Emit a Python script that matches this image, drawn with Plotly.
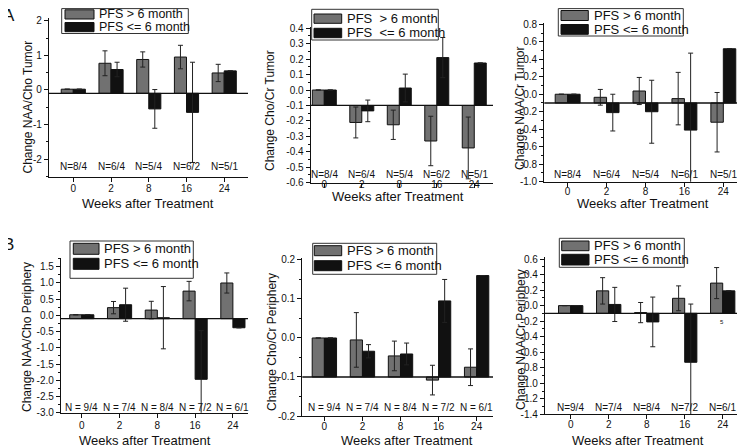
import plotly.graph_objects as go

# ---------------- data ----------------
WEEKS = ["0", "2", "8", "16", "24"]
SERIES = ["PFS > 6 month", "PFS <= 6 month"]
BASE = -0.1  # bars start at this baseline

# A: tumor
naa_cho_tumor_gt = [0.02, 0.77, 0.88, 0.95, 0.49]
naa_cho_tumor_gt_err = [None, 0.36, 0.22, 0.34, 0.25]
naa_cho_tumor_le = [0.02, 0.59, -0.55, -0.65, 0.55]
naa_cho_tumor_le_err = [None, 0.21, 0.56, 1.45, None]

cho_cr_tumor_gt = [0.0, -0.21, -0.225, -0.33, -0.375]
cho_cr_tumor_gt_err = [None, 0.10, 0.095, 0.16, 0.20]
cho_cr_tumor_le = [0.0, -0.135, 0.013, 0.21, 0.175]
cho_cr_tumor_le_err = [None, 0.07, 0.09, 0.13, None]

naa_cr_tumor_gt = [0.0, -0.035, 0.037, -0.05, -0.32]
naa_cr_tumor_gt_err = [None, 0.09, 0.155, 0.30, 0.34]
naa_cr_tumor_le = [0.0, -0.21, -0.20, -0.41, 0.52]
naa_cr_tumor_le_err = [None, 0.21, 0.36, 0.88, None]

# B: periphery
naa_cho_peri_gt = [0.02, 0.24, 0.165, 0.75, 1.0]
naa_cho_peri_gt_err = [None, 0.19, 0.27, 0.30, 0.31]
naa_cho_peri_le = [0.02, 0.33, -0.07, -1.97, -0.38]
naa_cho_peri_le_err = [None, 0.51, 0.96, 1.5, None]

cho_cr_peri_gt = [0.0, -0.005, -0.046, -0.108, -0.075]
cho_cr_peri_gt_err = [None, 0.07, 0.038, 0.038, 0.047]
cho_cr_peri_le = [0.0, -0.034, -0.041, 0.095, 0.16]
cho_cr_peri_le_err = [None, 0.017, 0.028, 0.055, None]

naa_cr_peri_gt = [0.0, 0.19, -0.09, 0.094, 0.29]
naa_cr_peri_gt_err = [None, 0.17, 0.13, 0.16, 0.20]
naa_cr_peri_le = [0.0, 0.015, -0.21, -0.73, 0.19]
naa_cr_peri_le_err = [None, 0.22, 0.32, 0.75, None]

N_A12 = ["N=8/4", "N=6/4", "N=5/4", "N=6/2", "N=5/1"]
N_A3 = ["N=8/4", "N=6/4", "N=5/4", "N=6/1", "N=5/1"]
N_B12 = ["N = 9/4", "N = 7/4", "N = 8/4", "N = 7/2", "N = 6/1"]
N_B3 = ["N=9/4", "N=7/4", "N=8/4", "N=7/2", "N=6/1"]

YTITLES = ["Change NAA/Cho Tumor", "Change Cho/Cr Tumor", "Change NAA/Cr Tumor",
           "Change NAA/Cho Periphery", "Change Cho/Cr Periphery", "Change NAA/Cr Periphery"]
XTITLE = "Weeks after Treatment"

YTICKS_1 = [-2, -1, 0, 1, 2]
YTICKS_2 = [-0.6, -0.5, -0.4, -0.3, -0.2, -0.1, 0.0, 0.1, 0.2, 0.3, 0.4]
YTICKS_3 = [-1.0, -0.8, -0.6, -0.4, -0.2, 0.0, 0.2, 0.4, 0.6, 0.8]
YTICKS_4 = [-3.0, -2.5, -2.0, -1.5, -1.0, -0.5, 0.0, 0.5, 1.0, 1.5]
YTICKS_5 = [-0.2, -0.1, 0.0, 0.1, 0.2]
YTICKS_6 = [-1.4, -1.2, -1.0, -0.8, -0.6, -0.4, -0.2, 0.0, 0.2, 0.4, 0.6]

# ---------------- layout / style ----------------
WIN_W, WIN_H = 745, 446
PAGE_MARGIN = 8  # default body margin of the html page (figure starts at 8,8)
W, H = WIN_W - PAGE_MARGIN, WIN_H - PAGE_MARGIN
FONT = "Liberation Sans, Arial, sans-serif"
GRAY = "#717171"
BLACK = "#111111"

panels = [
    dict(gt=naa_cho_tumor_gt, gte=naa_cho_tumor_gt_err, le=naa_cho_tumor_le, lee=naa_cho_tumor_le_err,
         yt=YTICKS_1, fmt="{:.0f}", minor=0.5, nl=N_A12,
         x0=49, x1=248, ytop=18, ybot=177, yr=[-2.52, 2.08], xr=[-0.644, 4.63],
         ytx=(27, 107.5), xtx=(147.5, 203.3), nsh=10.5, tls=-2,
         leg=dict(box=(61.7, 8.6, 188.3, 33.5), sw=(65, 94), g=(9.8, 19.0), b=(22.5, 31.7), tx=96.7,
                  names=SERIES, fs=12.5)),
    dict(gt=cho_cr_tumor_gt, gte=cho_cr_tumor_gt_err, le=cho_cr_tumor_le, lee=cho_cr_tumor_le_err,
         yt=YTICKS_2, fmt="{:.1f}", minor=0.05, nl=N_A12,
         x0=310.7, x1=493, ytop=26.7, ybot=182.7, yr=[-0.6, 0.41], xr=[-0.363, 4.5],
         ytx=(270, 111), xtx=(398, 196.5), nsh=8.7, tls=-12,
         leg=dict(box=(311.7, 9.3, 438.3, 40), sw=(314, 341.7), g=(14, 23.3), b=(28.3, 37.7), tx=345,
                  names=["PFS\u00a0 > 6 month", "PFS\u00a0 <= 6 month"], fs=13)),
    dict(gt=naa_cr_tumor_gt, gte=naa_cr_tumor_gt_err, le=naa_cr_tumor_le, lee=naa_cr_tumor_le_err,
         yt=YTICKS_3, fmt="{:.1f}", minor=0.1, nl=N_A3,
         x0=544.3, x1=742, ytop=22.7, ybot=181.7, yr=[-1.0, 0.818], xr=[-0.6, 4.48],
         ytx=(520, 108), xtx=(643, 203.3), nsh=7.7, tls=-4,
         leg=dict(box=(558.3, 8.6, 683.3, 36), sw=(561, 588.3), g=(10.5, 20.5), b=(24.5, 34.3), tx=591.7,
                  names=SERIES, fs=13)),
    dict(gt=naa_cho_peri_gt, gte=naa_cho_peri_gt_err, le=naa_cho_peri_le, lee=naa_cho_peri_le_err,
         yt=YTICKS_4, fmt="{:.1f}", minor=0.25, nl=N_B12,
         x0=61, x1=248, ytop=257.7, ybot=412.7, yr=[-3.0, 1.78], xr=[-0.55, 4.4],
         ytx=(27, 337), xtx=(145, 440.2), nsh=5, tls=-1,
         leg=dict(box=(70, 241, 193.3, 278.3), sw=(73.3, 99), g=(243.3, 254.3), b=(258.3, 269.3), tx=101.7,
                  names=SERIES, fs=13)),
    dict(gt=cho_cr_peri_gt, gte=cho_cr_peri_gt_err, le=cho_cr_peri_le, lee=cho_cr_peri_le_err,
         yt=YTICKS_5, fmt="{:.1f}", minor=0.05, nl=N_B12,
         x0=302.3, x1=493, ytop=258, ybot=416, yr=[-0.2, 0.205], xr=[-0.58, 4.43],
         ytx=(272, 342), xtx=(406.7, 440.2), nsh=8.3, tls=-3,
         leg=dict(box=(312.7, 243.3, 436.7, 274.3), sw=(314.3, 341.7), g=(245.7, 255.7), b=(260.7, 270.7), tx=345,
                  names=SERIES, fs=13)),
    dict(gt=naa_cr_peri_gt, gte=naa_cr_peri_gt_err, le=naa_cr_peri_le, lee=naa_cr_peri_le_err,
         yt=YTICKS_6, fmt="{:.1f}", minor=0.1, nl=N_B3,
         x0=545, x1=740, ytop=256.7, ybot=414.3, yr=[-1.4, 0.63], xr=[-0.676, 4.455],
         ytx=(521, 340), xtx=(638, 440.5), nsh=6.6, tls=-3,
         leg=dict(box=(559.3, 238.3, 684.3, 267.3), sw=(561.7, 589), g=(241, 250.7), b=(254.3, 265), tx=592.3,
                  names=SERIES, fs=13)),
]


def px(x):
    return (x - PAGE_MARGIN) / W


def py(y):
    return 1 - (y - PAGE_MARGIN) / H


def fmt_tick(v, f):
    s = f.format(v)
    if s in ("-0.0", "-0"):
        s = s[1:]
    return s


def note(x, y, text, size, xanchor="center", yanchor="middle", **kw):
    d = dict(x=x, y=y, xref="paper", yref="paper", text=text, showarrow=False,
             xanchor=xanchor, yanchor=yanchor, font=dict(family=FONT, size=size, color=BLACK))
    d.update(kw)
    return d


fig = go.Figure()
shapes = []
annotations = []
xcat = list(range(len(WEEKS)))

for i, p in enumerate(panels):
    n = "" if i == 0 else str(i + 1)
    xa, ya = "x" + n, "y" + n
    for vals, errs, color, name in [(p["gt"], p["gte"], GRAY, SERIES[0]), (p["le"], p["lee"], BLACK, SERIES[1])]:
        fig.add_trace(go.Bar(
            x=xcat, y=[v - BASE for v in vals], base=BASE, name=name,
            marker=dict(color=color, line=dict(color=BLACK, width=1)),
            error_y=dict(type="data", array=errs, color="#222222", thickness=1, width=2.5, visible=True),
            xaxis=xa, yaxis=ya, showlegend=False, offsetgroup=name,
        ))
    fig.layout["xaxis" + n] = dict(
        domain=[max(0, px(p["x0"])), min(1, px(p["x1"]))], range=p["xr"], anchor=ya,
        tickmode="array", tickvals=xcat, ticktext=WEEKS,
        showline=True, linecolor=BLACK, linewidth=1.3, ticks="outside", ticklen=4, tickwidth=1.2,
        tickcolor=BLACK, showgrid=False, zeroline=False, ticklabelstandoff=p["tls"],
        tickfont=dict(family=FONT, size=10, color=BLACK),
    )
    fig.layout["yaxis" + n] = dict(
        domain=[max(0, py(p["ybot"])), min(1, py(p["ytop"]))], range=p["yr"], anchor=xa,
        tickmode="array", tickvals=p["yt"], ticktext=[fmt_tick(v, p["fmt"]) for v in p["yt"]],
        showline=True, linecolor=BLACK, linewidth=1.3, ticks="outside", ticklen=4, tickwidth=1.2,
        tickcolor=BLACK, showgrid=False, zeroline=False,
        minor=dict(dtick=p["minor"], ticks="outside", ticklen=2, tickcolor=BLACK, showgrid=False),
        tickfont=dict(family=FONT, size=10, color=BLACK),
    )
    # baseline
    shapes.append(dict(type="line", xref=xa + " domain", yref=ya, x0=0, x1=1, y0=BASE, y1=BASE,
                       line=dict(color=BLACK, width=1.3), layer="above"))
    # N labels
    for k, lab in enumerate(p["nl"]):
        annotations.append(dict(x=k, y=0, xref=xa, yref=ya + " domain", text=lab, showarrow=False,
                                xanchor="center", yanchor="middle", yshift=p["nsh"],
                                font=dict(family=FONT, size=10, color=BLACK)))
    # axis titles
    annotations.append(note(px(p["ytx"][0]), py(p["ytx"][1]), YTITLES[i], 12, textangle=-90))
    annotations.append(note(px(p["xtx"][0]), py(p["xtx"][1]), XTITLE, 13))
    # legend
    L = p["leg"]
    bx0, by0, bx1, by1 = L["box"]
    shapes.append(dict(type="rect", xref="paper", yref="paper", x0=px(bx0), x1=px(bx1),
                       y0=py(by1), y1=min(1, py(by0)),
                       line=dict(color="#333333", width=1), fillcolor="white", layer="above"))
    for (yy0, yy1), col, nm in [(L["g"], GRAY, L["names"][0]), (L["b"], BLACK, L["names"][1])]:
        shapes.append(dict(type="rect", xref="paper", yref="paper", x0=px(L["sw"][0]), x1=px(L["sw"][1]),
                           y0=py(yy1), y1=min(1, py(yy0)), line=dict(color=BLACK, width=1), fillcolor=col,
                           layer="above"))
        annotations.append(note(px(L["tx"]), py((yy0 + yy1) / 2), nm, L["fs"], xanchor="left"))

# panel letters
annotations.append(note(px(9), py(15), "A", 17))
annotations.append(note(px(8), py(244), "B", 17))
# stray small mark in last panel
annotations.append(note(px(722), py(322), "5", 6))

fig.update_layout(
    width=W, height=H, margin=dict(l=0, r=0, t=0, b=0, autoexpand=False),
    paper_bgcolor="white", plot_bgcolor="white",
    barmode="group", bargap=0.36, bargroupgap=0,
    shapes=shapes, annotations=annotations, showlegend=False,
)

fig.write_html("out.html")
